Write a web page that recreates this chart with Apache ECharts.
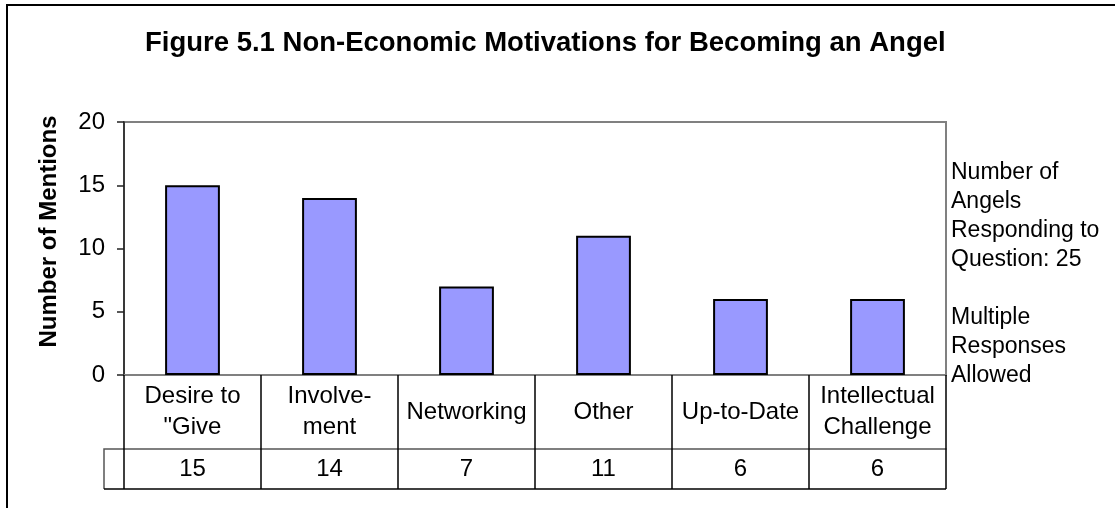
<!DOCTYPE html>
<html>
<head>
<meta charset="utf-8">
<script src="https://cdn.jsdelivr.net/npm/echarts@6/dist/echarts.min.js"></script>
<style>
  html, body { margin: 0; padding: 0; background: #fff; }
  #chart { width: 1115px; height: 508px; }
</style>
</head>
<body>
<div id="chart"></div>
<script>
// data
const categories = ['Desire to\n"Give', 'Involve-\nment', 'Networking', 'Other', 'Up-to-Date', 'Intellectual\nChallenge']
const mentions = [15, 14, 7, 11, 6, 6]
const yTicks = [0, 5, 10, 15, 20]
const respondents = 25

const font = "'Liberation Sans', Arial, sans-serif"
// plot box
const plotLeft = 124
const plotRight = 946
const plotTop = 122
const plotBottom = 375
const labelRow = 74 // height of the category row of the table
const valueRow = 40
const stub = 20 // empty cell left of the value row

const chart = echarts.init(document.getElementById('chart'))

chart.setOption({
  animation: false,
  backgroundColor: '#fff',
  textStyle: { fontFamily: font },
  title: {
    text: 'Figure 5.1 Non-Economic Motivations for Becoming an Angel',
    left: 140,
    top: 24,
    textStyle: { fontSize: 27.5, fontWeight: 'bold', color: '#000', fontFamily: font }
  },
  grid: {
    left: plotLeft,
    right: 1115 - plotRight,
    top: plotTop,
    bottom: 508 - plotBottom,
    show: true,
    borderColor: '#808080',
    borderWidth: 2
  },
  xAxis: [{
    type: 'category',
    data: categories,
    position: 'bottom',
    axisLine: { lineStyle: { color: '#808080', width: 2 } },
    axisTick: { show: true, interval: 0, length: labelRow + valueRow, lineStyle: { color: '#000', width: 1.5 } },
    axisLabel: {
      interval: 0,
      margin: labelRow / 2,
      verticalAlign: 'middle',
      fontSize: 24,
      lineHeight: 31,
      color: '#000',
      fontFamily: font
    }
  }, {
    type: 'category',
    data: mentions.map(String),
    position: 'bottom',
    offset: labelRow,
    axisLine: { lineStyle: { color: '#555', width: 1.5 } },
    axisTick: { show: false },
    axisLabel: {
      interval: 0,
      margin: valueRow / 2,
      verticalAlign: 'middle',
      fontSize: 24,
      color: '#000',
      fontFamily: font
    }
  }],
  yAxis: {
    type: 'value',
    min: yTicks[0],
    max: yTicks[yTicks.length - 1],
    interval: yTicks[1] - yTicks[0],
    name: 'Number of Mentions',
    nameLocation: 'middle',
    nameRotate: 90,
    nameGap: 63,
    nameTextStyle: { fontSize: 24, fontWeight: 'bold', color: '#000', fontFamily: font, padding: [0, 0, 0, 34] },
    axisLine: { show: true, lineStyle: { color: '#222', width: 1.5 } },
    axisTick: { show: true, length: 7, lineStyle: { color: '#222', width: 1.5 } },
    axisLabel: { margin: 19, fontSize: 24, color: '#000', fontFamily: font },
    splitLine: { show: false }
  },
  series: [{
    type: 'bar',
    data: mentions,
    barWidth: '40%',
    itemStyle: { color: '#9999ff', borderColor: '#000', borderWidth: 2 }
  }],
  graphic: [{
    type: 'rect',
    shape: { x: 7, y: 5, width: 1400, height: 800 },
    style: { fill: 'none', stroke: '#000', lineWidth: 2 },
    silent: true
  }, {
    type: 'polyline',
    shape: { points: [[plotLeft, plotBottom + labelRow], [plotLeft - stub, plotBottom + labelRow], [plotLeft - stub, plotBottom + labelRow + valueRow]] },
    style: { fill: 'none', stroke: '#555', lineWidth: 1.5 },
    silent: true
  }, {
    type: 'line',
    shape: { x1: plotLeft - stub, y1: plotBottom + labelRow + valueRow, x2: plotRight, y2: plotBottom + labelRow + valueRow },
    style: { stroke: '#000', lineWidth: 1.5 },
    silent: true
  }, {
    type: 'text',
    left: plotRight + 5,
    top: 158,
    style: {
      text: 'Number of\nAngels\nResponding to\nQuestion: ' + respondents + '\n\nMultiple\nResponses\nAllowed',
      font: '23px ' + font,
      lineHeight: 29,
      fill: '#000'
    },
    silent: true
  }]
})
</script>
</body>
</html>
